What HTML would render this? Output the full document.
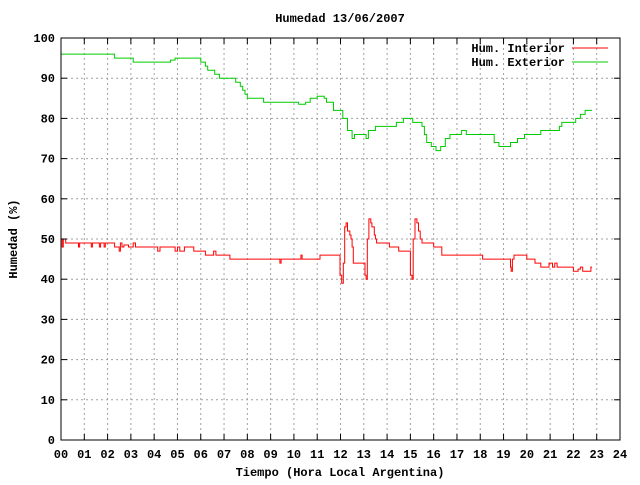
<!DOCTYPE html>
<html><head><meta charset="utf-8"><style>
body{margin:0;background:#fff}
svg text{font-family:"Liberation Mono",monospace;font-size:12px;font-weight:bold;fill:#000}
</style></head><body>
<svg id="chart" width="640" height="480" xmlns="http://www.w3.org/2000/svg">
<rect width="640" height="480" fill="#fff"/>
<g id="grid"></g>
<g id="series"></g>
<rect x="61" y="38" width="559" height="402" fill="none" stroke="#000" stroke-width="1"/>
<g id="axes"></g>
<text x="340" y="22" text-anchor="middle">Humedad 13/06/2007</text>
<text x="340" y="476" text-anchor="middle">Tiempo (Hora Local Argentina)</text>
<text transform="translate(17,239) rotate(-90)" text-anchor="middle">Humedad (%)</text>
<g>
<text x="565" y="52" text-anchor="end">Hum. Interior</text>
<line x1="572" y1="48" x2="608" y2="48" stroke="#f00"/>
<text x="565" y="66" text-anchor="end">Hum. Exterior</text>
<line x1="572" y1="62" x2="608" y2="62" stroke="#0c0"/>
</g>
</svg>
<script>
const xTicks=[0,1,2,3,4,5,6,7,8,9,10,11,12,13,14,15,16,17,18,19,20,21,22,23,24];
const yTicks=[0,10,20,30,40,50,60,70,80,90,100];
const interiorT=[0,0.05,0.1,0.2,0.75,0.8,1.3,1.35,1.65,1.7,1.85,1.9,2.3,2.5,2.55,2.62,2.7,2.9,3.1,3.2,4.15,4.25,4.9,5.0,5.1,5.3,5.7,6.2,6.55,6.65,7.25,9.4,9.45,10.3,10.35,11.12,11.98,12.05,12.12,12.18,12.24,12.3,12.4,12.45,12.5,12.55,13.05,13.1,13.15,13.22,13.3,13.35,13.45,13.5,13.55,14.1,14.5,15.0,15.07,15.12,15.2,15.28,15.35,15.42,15.5,16.0,16.35,18.1,19.3,19.33,19.38,19.45,20.0,20.35,20.6,20.95,21.1,21.2,21.3,22.0,22.2,22.3,22.4,22.75,22.8];
const interiorV=[50,48,50,49,48,49,48,49,48,49,48,49,48,47,49,48,48.5,48,49,48,47,48,47,48,47,48,47,46,47,46,45,44,45,46,45,46,41,39,44,53,54,52,51,50,48,44,41,40,50,55,54,53,51,50,49,48,47,41,40,50,55,54,52,50,49,48,46,45,43,42,45,46,45,44,43,44,43,44,43,42,42.5,43,42,43,43];
const exteriorT=[0,2.3,3.1,4.7,4.9,5.0,6.0,6.2,6.3,6.6,6.8,7.5,7.7,7.8,7.9,8.0,8.7,10.2,10.5,10.7,11.0,11.3,11.4,11.7,12.1,12.3,12.5,12.6,13.1,13.2,13.5,14.4,14.7,15.1,15.5,15.6,15.7,15.9,16.1,16.3,16.5,16.7,17.2,17.4,18.4,18.6,18.8,19.3,19.6,19.9,20.6,21.4,21.5,22.1,22.3,22.5,22.8];
const exteriorV=[96,95,94,94.5,95,95,94,93,92,91,90,89,88,87,86,85,84,83.5,84,85,85.5,85,84,82,80,77,75,76,75,77,78,79,80,79,78,76,74,73,72,73,75,76,77,76,76,74,73,74,75,76,77,78,79,80,81,82,82];
const X0=61,X1=620,Y0=440,Y1=38;
const xs=h=>X0+(h/24)*(X1-X0);
const ys=v=>Y0-(v/100)*(Y0-Y1);
const NS="http://www.w3.org/2000/svg";
function mk(tag,attrs,parent){const e=document.createElementNS(NS,tag);for(const k in attrs)e.setAttribute(k,attrs[k]);parent.appendChild(e);return e;}
const grid=document.getElementById('grid'),axes=document.getElementById('axes'),series=document.getElementById('series');
xTicks.forEach(t=>{const x=xs(t);
 if(t>0&&t<24){const g=mk('line',{x1:x,y1:Y1,x2:x,y2:Y0,stroke:'#a0a0a0','stroke-dasharray':'2,3'},grid);
 
 }
 mk('line',{x1:x,y1:Y0,x2:x,y2:Y0-6,stroke:'#000'},axes);
 mk('line',{x1:x,y1:Y1,x2:x,y2:Y1+6,stroke:'#000'},axes);
 const tx=mk('text',{x:x,y:458,'text-anchor':'middle'},axes);tx.textContent=String(t).padStart(2,'0');
 
 
});
yTicks.forEach(t=>{const y=ys(t);
 if(t>0&&t<100){const g=mk('line',{x1:X0,y1:y,x2:X1,y2:y,stroke:'#a0a0a0','stroke-dasharray':'2,3'},grid);
 
 }
 mk('line',{x1:X0,y1:y,x2:X0+6,y2:y,stroke:'#000'},axes);
 mk('line',{x1:X1,y1:y,x2:X1-6,y2:y,stroke:'#000'},axes);
 const tx=mk('text',{x:55,y:y+4,'text-anchor':'end'},axes);tx.textContent=t;
 
 
});
function stepPath(T,V){let d='';for(let i=0;i<T.length;i++){const x=xs(T[i]).toFixed(1),y=ys(V[i]).toFixed(1);
 if(i===0)d+='M'+x+','+y;else d+='H'+x+'V'+y;}return d;}
const pe=mk('path',{d:stepPath(exteriorT,exteriorV),fill:'none',stroke:'#0c0','stroke-width':1},series);


const pi=mk('path',{d:stepPath(interiorT,interiorV),fill:'none',stroke:'#f00','stroke-width':1},series);


</script>
</body></html>
